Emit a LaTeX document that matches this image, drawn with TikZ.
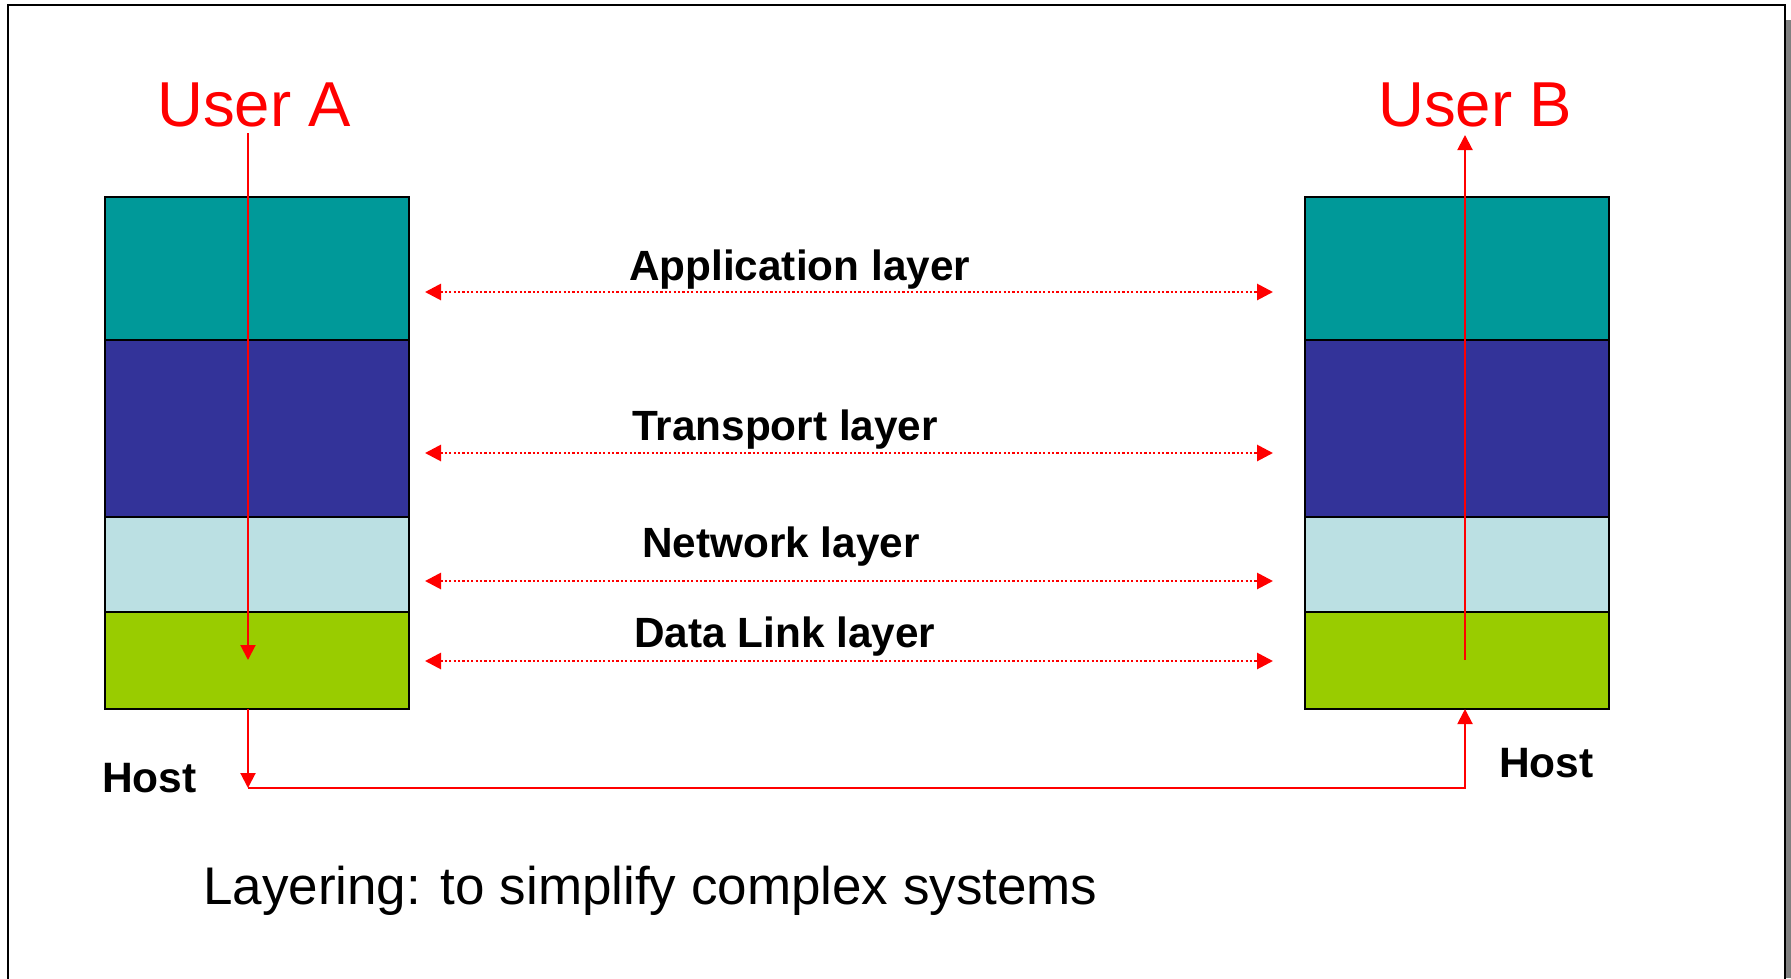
\documentclass[tikz,border=0pt]{standalone}
\usepackage{fontspec}
\setmainfont{Liberation Sans}
\usetikzlibrary{arrows.meta}

\definecolor{apcol}{HTML}{009999}
\definecolor{trcol}{HTML}{333399}
\definecolor{nwcol}{HTML}{BBE0E3}
\definecolor{dlcol}{HTML}{99CC00}
\definecolor{shadowgray}{HTML}{808080}

\tikzset{
  layerbox/.style={draw=black, line width=2pt, anchor=north west, inner sep=0pt, outer sep=0pt,
                   minimum width=304pt},
  peerlink/.style={red, line width=2.8pt, dash pattern=on 2.2pt off 2.2pt,
                   {Triangle[length=16pt,width=16pt]}-{Triangle[length=16pt,width=16pt]}},
  flow/.style={red, line width=2pt},
  flowtip/.style={-{Triangle[length=15pt,width=15pt]}},
  username/.style={red, anchor=base west, inner sep=0pt, font=\fontsize{63.5}{76}\selectfont},
  layerlabel/.style={anchor=base west, inner sep=0pt, font=\fontsize{42.3}{51}\selectfont\bfseries},
  hostlabel/.style={anchor=base west, inner sep=0pt, font=\fontsize{42.5}{51}\selectfont\bfseries},
  caption/.style={anchor=base west, inner sep=0pt, font=\fontsize{53}{64}\selectfont},
}

\begin{document}
\begin{tikzpicture}[x=1pt, y=-1pt]
  \useasboundingbox (0,0) rectangle (1791,978);

  % slide frame with its shadow on the right
  \fill[shadowgray] (1786,20) rectangle (1791,978);
  \draw[black, line width=2pt] (8,990) -- (8,5) -- (1785,5) -- (1785,990);

  % left protocol stack
  \node[layerbox, fill=apcol, minimum height=143pt] (la1) at (105,197) {};
  \node[layerbox, fill=trcol, minimum height=177pt] (la2) at (105,340) {};
  \node[layerbox, fill=nwcol, minimum height=95pt]  (la3) at (105,517) {};
  \node[layerbox, fill=dlcol, minimum height=97pt]  (la4) at (105,612) {};

  % right protocol stack
  \node[layerbox, fill=apcol, minimum height=143pt] (lb1) at (1305,197) {};
  \node[layerbox, fill=trcol, minimum height=177pt] (lb2) at (1305,340) {};
  \node[layerbox, fill=nwcol, minimum height=95pt]  (lb3) at (1305,517) {};
  \node[layerbox, fill=dlcol, minimum height=97pt]  (lb4) at (1305,612) {};

  % user names
  \node[username] (usera) at (157,126) {User A};
  \node[username] (userb) at (1378,126) {User B};

  % peer-to-peer layer links
  \coordinate (ap-l) at (425,292); \coordinate (ap-r) at (1273,292);
  \coordinate (tr-l) at (425,453); \coordinate (tr-r) at (1273,453);
  \coordinate (nw-l) at (425,581); \coordinate (nw-r) at (1273,581);
  \coordinate (dl-l) at (425,661); \coordinate (dl-r) at (1273,661);
  \draw[peerlink] (ap-l) -- (ap-r);
  \draw[peerlink] (tr-l) -- (tr-r);
  \draw[peerlink] (nw-l) -- (nw-r);
  \draw[peerlink] (dl-l) -- (dl-r);

  \node[layerlabel] (aplabel) at (629,280) {Application layer};
  \node[layerlabel] (trlabel) at (632,440) {Transport layer};
  \node[layerlabel] (nwlabel) at (642,557) {Network layer};
  \node[layerlabel] (dllabel) at (634,647) {Data Link layer};

  % data flow: down stack A, across the wire, up stack B
  \coordinate (a-top)    at (248,133);
  \coordinate (a-dl)     at (248,660);
  \coordinate (a-out)    at (248,709);
  \coordinate (a-corner) at (248,788);
  \coordinate (b-corner) at (1465,788);
  \coordinate (b-in)     at (1465,709);
  \coordinate (b-dl)     at (1465,660);
  \coordinate (b-top)    at (1465,135);

  \draw[flow, flowtip] (a-top) -- (a-dl);
  \draw[flow, flowtip] (a-out) -- (a-corner);
  \draw[flow, flowtip] (a-corner) -- (b-corner) -- (b-in);
  \draw[flow, flowtip] (b-dl) -- (b-top);

  % host labels
  \node[hostlabel] (hosta) at (102,792) {Host};
  \node[hostlabel] (hostb) at (1499,777) {Host};

  % caption
  \node[caption] (cap) at (203,904) {Layering: to simplify complex systems};
\end{tikzpicture}
\end{document}
